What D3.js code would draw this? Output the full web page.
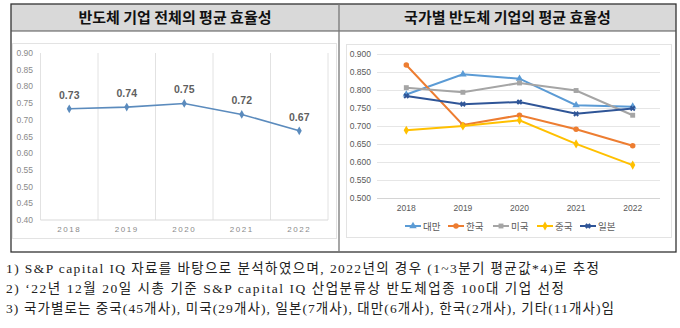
<!DOCTYPE html>
<html>
<head>
<meta charset="utf-8">
<script src="https://cdn.jsdelivr.net/npm/d3@7"></script>
<style>
  body { margin: 0; background: #fff; }
  svg { display: block; }
</style>
</head>
<body>
<div id="chart"></div>
<script>
// data
const years = ["2018", "2019", "2020", "2021", "2022"];
const totalAvg = [0.733, 0.738, 0.749, 0.716, 0.667];
const countries = ["대만", "한국", "미국", "중국", "일본"];
const taiwan = [0.788, 0.844, 0.832, 0.758, 0.754];
const korea = [0.870, 0.703, 0.730, 0.691, 0.645];
const usa = [0.807, 0.794, 0.820, 0.799, 0.730];
const china = [0.688, 0.700, 0.716, 0.650, 0.591];
const japan = [0.784, 0.761, 0.767, 0.734, 0.749];
const leftTicks = [0.40, 0.45, 0.50, 0.55, 0.60, 0.65, 0.70, 0.75, 0.80, 0.85, 0.90];
const rightTicks = [0.500, 0.550, 0.600, 0.650, 0.700, 0.750, 0.800, 0.850, 0.900];
const titles = ["반도체 기업 전체의 평균 효율성", "국가별 반도체 기업의 평균 효율성"];
const notes = [
  "1) S&P capital IQ 자료를 바탕으로 분석하였으며, 2022년의 경우 (1~3분기 평균값*4)로 추정",
  "2) ‘22년 12월 20일 시총 기준 S&P capital IQ 산업분류상 반도체업종 100대 기업 선정",
  "3) 국가별로는 중국(45개사), 미국(29개사), 일본(7개사), 대만(6개사), 한국(2개사), 기타(11개사)임"
];

const seriesList = [taiwan, korea, usa, china, japan];
const colors = ["#5b9bd5", "#ed7d31", "#a5a5a5", "#ffc000", "#2f5597"];
const symbols = [d3.symbolTriangle, d3.symbolCircle, d3.symbolSquare, d3.symbolDiamond, d3.symbolCross];

const W = 680, H = 328;
const sansKr = "'Noto Sans CJK KR', 'Noto Sans', sans-serif";

const svg = d3.select("#chart").append("svg")
    .attr("width", W)
    .attr("height", H);

svg.append("rect").attr("width", W).attr("height", H).attr("fill", "#fff");

// table frame
const tbl = {left: 11, right: 676, top: 4, head: 31, bottom: 252, mid: 339};
svg.append("rect")
    .attr("x", tbl.left).attr("y", tbl.top)
    .attr("width", tbl.right - tbl.left).attr("height", tbl.head - tbl.top)
    .attr("fill", "#d9d9d9");
svg.append("rect")
    .attr("x", tbl.left).attr("y", tbl.top)
    .attr("width", tbl.right - tbl.left).attr("height", tbl.bottom - tbl.top)
    .attr("fill", "none").attr("stroke", "#333").attr("stroke-width", 1.3);
svg.append("line")
    .attr("x1", tbl.left).attr("x2", tbl.right)
    .attr("y1", tbl.head).attr("y2", tbl.head)
    .attr("stroke", "#555").attr("stroke-width", 1.2);
svg.append("line")
    .attr("x1", tbl.mid).attr("x2", tbl.mid)
    .attr("y1", tbl.top).attr("y2", tbl.bottom)
    .attr("stroke", "#777").attr("stroke-width", 1.3);

svg.selectAll(".title")
    .data(titles)
    .enter().append("text")
    .attr("class", "title")
    .attr("x", (d, i) => i === 0 ? (tbl.left + tbl.mid) / 2 : (tbl.mid + tbl.right) / 2)
    .attr("y", 23)
    .attr("text-anchor", "middle")
    .attr("font-family", sansKr)
    .attr("font-weight", "bold")
    .attr("font-size", 15)
    .attr("fill", "#111")
    .text(d => d);

// chart area boxes
svg.append("rect").attr("x", 12.5).attr("y", 43.5).attr("width", 324).attr("height", 195)
    .attr("fill", "#fff").attr("stroke", "#e3e3e3");
svg.append("rect").attr("x", 346.5).attr("y", 44.5).attr("width", 325).attr("height", 193)
    .attr("fill", "#fff").attr("stroke", "#e3e3e3");

// ---------- left chart ----------
const x1 = d3.scaleBand().domain(years).range([40.5, 328]);
const y1 = d3.scaleLinear().domain([0.4, 0.9]).range([220, 53]);

const gL = svg.append("g");

// vertical separators between categories
gL.selectAll(".sep")
    .data(years.concat(["end"]))
    .enter().append("line")
    .attr("x1", (d, i) => x1.range()[0] + i * x1.step())
    .attr("x2", (d, i) => x1.range()[0] + i * x1.step())
    .attr("y1", y1(0.9))
    .attr("y2", y1(0.4))
    .attr("stroke", "#e2e2e2");

gL.append("line")
    .attr("x1", x1.range()[0]).attr("x2", x1.range()[1])
    .attr("y1", y1(0.4)).attr("y2", y1(0.4))
    .attr("stroke", "#d9d9d9");

gL.selectAll(".ytick")
    .data(leftTicks)
    .enter().append("text")
    .attr("x", 33)
    .attr("y", d => y1(d) + 3)
    .attr("text-anchor", "end")
    .attr("font-family", "'Liberation Sans', Arial, sans-serif")
    .attr("font-size", 8.5)
    .attr("fill", "#8a8a8a")
    .text(d => d3.format(".2f")(d));

gL.selectAll(".xtick")
    .data(years)
    .enter().append("text")
    .attr("x", d => x1(d) + x1.bandwidth() / 2)
    .attr("y", 232)
    .attr("text-anchor", "middle")
    .attr("font-family", "'Liberation Sans', Arial, sans-serif")
    .attr("font-size", 8)
    .attr("letter-spacing", 1.6)
    .attr("fill", "#8a8a8a")
    .text(d => d);

const lineL = d3.line()
    .x((d, i) => x1(years[i]) + x1.bandwidth() / 2)
    .y(d => y1(d));

gL.append("path")
    .datum(totalAvg)
    .attr("d", lineL)
    .attr("fill", "none")
    .attr("stroke", "#5b8bbd")
    .attr("stroke-width", 1.6);

gL.selectAll(".pt")
    .data(totalAvg)
    .enter().append("path")
    .attr("transform", (d, i) => `translate(${x1(years[i]) + x1.bandwidth() / 2},${y1(d)})`)
    .attr("d", d3.symbol(d3.symbolDiamond, 22))
    .attr("fill", "#5b8bbd");

gL.selectAll(".lbl")
    .data(totalAvg)
    .enter().append("text")
    .attr("x", (d, i) => x1(years[i]) + x1.bandwidth() / 2)
    .attr("y", d => y1(d) - 10)
    .attr("text-anchor", "middle")
    .attr("font-family", "'Liberation Sans', Arial, sans-serif")
    .attr("font-weight", "bold")
    .attr("font-size", 10.5)
    .attr("fill", "#5f5f5f")
    .text(d => d3.format(".2f")(d));

// ---------- right chart ----------
const x2 = d3.scaleBand().domain(years).range([378, 661]);
const y2 = d3.scaleLinear().domain([0.5, 0.9]).range([197.7, 54.3]);

const gR = svg.append("g");

gR.selectAll(".grid")
    .data(rightTicks)
    .enter().append("line")
    .attr("x1", 377).attr("x2", 660)
    .attr("y1", d => Math.round(y2(d)) + 0.5)
    .attr("y2", d => Math.round(y2(d)) + 0.5)
    .attr("stroke", d => d === 0.5 ? "#d4d4d4" : "#e6e6e6");

gR.selectAll(".ytick")
    .data(rightTicks)
    .enter().append("text")
    .attr("x", 371)
    .attr("y", d => y2(d) + 3)
    .attr("text-anchor", "end")
    .attr("font-family", "'Liberation Sans', Arial, sans-serif")
    .attr("font-size", 8.5)
    .attr("fill", "#595959")
    .text(d => d3.format(".3f")(d));

gR.selectAll(".xtick")
    .data(years)
    .enter().append("text")
    .attr("x", d => x2(d) + x2.bandwidth() / 2)
    .attr("y", 211)
    .attr("text-anchor", "middle")
    .attr("font-family", "'Liberation Sans', Arial, sans-serif")
    .attr("font-size", 8.5)
    .attr("fill", "#595959")
    .text(d => d);

const lineR = d3.line()
    .x((d, i) => x2(years[i]) + x2.bandwidth() / 2)
    .y(d => y2(d));

seriesList.forEach((s, k) => {
    const g = gR.append("g");
    g.append("path")
        .datum(s)
        .attr("d", lineR)
        .attr("fill", "none")
        .attr("stroke", colors[k])
        .attr("stroke-width", 2);
    g.selectAll("path.mk")
        .data(s)
        .enter().append("path")
        .attr("class", "mk")
        .attr("transform", (d, i) => `translate(${x2(years[i]) + x2.bandwidth() / 2},${y2(d)})` + (k === 4 ? " rotate(45)" : ""))
        .attr("d", d3.symbol(symbols[k], k === 4 ? 20 : 24))
        .attr("fill", colors[k]);
});

// legend
const legendX = [405, 448, 493, 537, 580];
const leg = gR.selectAll(".leg")
    .data(countries)
    .enter().append("g")
    .attr("transform", (d, i) => `translate(${legendX[i]},226)`);
leg.append("line")
    .attr("x1", 0).attr("x2", 16)
    .attr("stroke", (d, i) => colors[i])
    .attr("stroke-width", 2);
leg.append("path")
    .attr("transform", (d, i) => "translate(8,0)" + (i === 4 ? " rotate(45)" : ""))
    .attr("d", (d, i) => d3.symbol(symbols[i], i === 4 ? 20 : 24)())
    .attr("fill", (d, i) => colors[i]);
leg.append("text")
    .attr("x", 18)
    .attr("y", 3.5)
    .attr("font-family", sansKr)
    .attr("font-size", 9.5)
    .attr("fill", "#595959")
    .text(d => d);

// footnotes (stretched to the width they take in the original)
const noteEnds = [599, 564, 614];
svg.selectAll(".note")
    .data(notes)
    .enter().append("text")
    .attr("x", 6)
    .attr("y", (d, i) => 273 + i * 20)
    .attr("font-family", "'Liberation Serif', 'Noto Sans CJK KR', serif")
    .attr("font-size", 13.5)
    .attr("fill", "#222")
    .attr("textLength", (d, i) => noteEnds[i] - 6)
    .attr("lengthAdjust", "spacing")
    .text(d => d);
</script>
</body>
</html>
